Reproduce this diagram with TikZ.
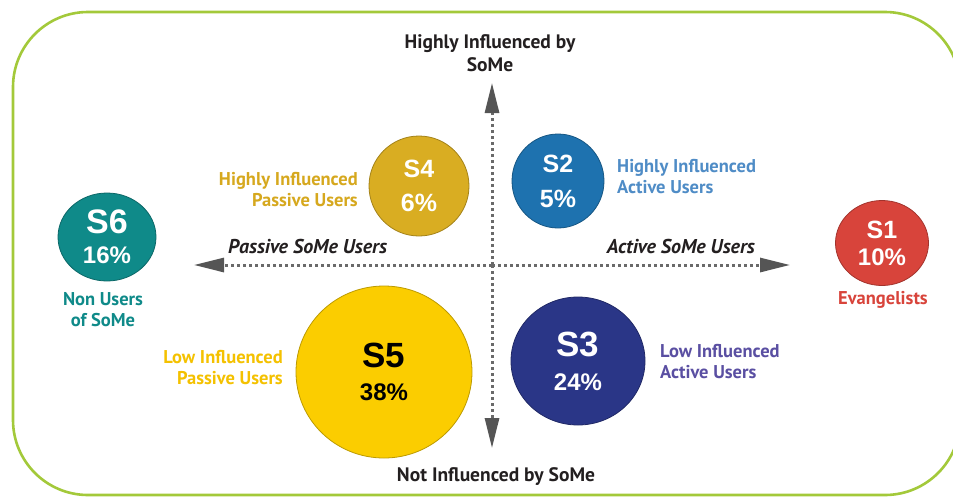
\documentclass[tikz,border=0pt]{standalone}
\usepackage{fontspec}
\setmainfont{PT Sans}
\newfontfamily\numfont{Liberation Sans}
\usetikzlibrary{arrows.meta,shapes.geometric}

\definecolor{framegreen}{HTML}{A3C93A}
\definecolor{inkdark}{HTML}{231F20}
\definecolor{axisgray}{HTML}{6A6A6A}
\definecolor{tipgray}{HTML}{555555}
\definecolor{segteal}{HTML}{0F8A89}
\definecolor{segred}{HTML}{D8443B}
\definecolor{seggold}{HTML}{D9AD22}
\definecolor{segblue}{HTML}{1E72AF}
\definecolor{segyellow}{HTML}{FBCD00}
\definecolor{segnavy}{HTML}{2A3687}
\definecolor{lblgold}{HTML}{D6A81E}
\definecolor{lblblue}{HTML}{4F8CC6}
\definecolor{lblyellow}{HTML}{F4C100}
\definecolor{lblpurple}{HTML}{5A4FA2}

\begin{document}
\begin{tikzpicture}[
        x=1pt, y=-1pt,
        segment/.style={ellipse, inner sep=0pt, align=center},
        seglbl/.style={font=\bfseries\fontsize{18.5}{21}\selectfont, align=center, inner sep=0pt},
        axislbl/.style={font=\bfseries\fontsize{19.5}{23}\selectfont, text=inkdark, align=center, inner sep=0pt},
        sidelbl/.style={font=\bfseries\itshape\fontsize{20}{22}\selectfont, text=inkdark, inner sep=0pt},
        axisline/.style={draw=axisgray, line width=3pt, dash pattern=on 3pt off 3pt,
          -{Triangle[length=30pt, width=14pt, fill=tipgray, color=tipgray]}}
      ]
      \useasboundingbox (0,0) rectangle (953,496);
      \draw[framegreen, line width=2.6pt, rounded corners=75pt] (13,12) rectangle (960,495);

      % axes
      \coordinate (origin) at (492,265);
      \coordinate (west) at (194,265);
      \coordinate (east) at (790,265);
      \coordinate (north) at (492,83);
      \coordinate (south) at (492,448);
      \draw[axisline] (origin) -- (west);
      \draw[axisline] (origin) -- (east);
      \draw[axisline] (origin) -- (north);
      \draw[axisline] (origin) -- (south);

      \node[axislbl] (top) at (490,53) {Highly Influenced by\\SoMe};
      \node[axislbl] (bottom) at (496,477) {Not Influenced by SoMe};
      \node[sidelbl, anchor=west] (passive) at (228,246) {Passive SoMe Users};
      \node[sidelbl, anchor=east] (active) at (755,246) {Active SoMe Users};

      % segments: name/x/y/width/height/colour/text colour/label size/value size/line gap/text/value
      \foreach \name/\x/\y/\w/\h/\col/\tcol/\fa/\fb/\gap/\lbl/\val in {%
        s6/107/237/98/88/segteal/white/34/24/30/S6/16\%,
        s1/882/243/93/85/segred/white/25/24/27/S1/10\%,
        s4/419/186/100/100/seggold/white/25/25/34/S4/6\%,
        s2/558/181/92/94/segblue/white/25/25/35/S2/5\%,
        s5/384/372/176/172/segyellow/black/35/24/33/S5/38\%,
        s3/578/361/134/128/segnavy/white/35/24/34/S3/24\%%
      }{
        \node[segment, fill=\col, draw=\col!75!black, line width=0.8pt, text=\tcol,
          font=\numfont\bfseries\fontsize{\fa}{\gap}\selectfont,
          minimum width=\w pt, minimum height=\h pt] (\name) at (\x,\y)
          {\lbl\\\fontsize{\fb}{\gap}\selectfont\val};
      }
      \node[seglbl, text=segteal] (s6-lbl) at (103,310) {Non Users\\of SoMe};
      \node[seglbl, text=segred] (s1-lbl) at (883,300) {Evangelists};
      \node[seglbl, text=lblgold, align=right, anchor=east] (s4-lbl) at (358,190) {Highly Influenced\\Passive Users};
      \node[seglbl, text=lblblue, align=left, anchor=west] (s2-lbl) at (617,177) {Highly Influenced\\Active Users};
      \node[seglbl, text=lblyellow, align=right, anchor=east] (s5-lbl) at (283,368) {Low Influenced\\Passive Users};
      \node[seglbl, text=lblpurple, align=left, anchor=west] (s3-lbl) at (660,362) {Low Influenced\\Active Users};
    \end{tikzpicture}
\end{document}
